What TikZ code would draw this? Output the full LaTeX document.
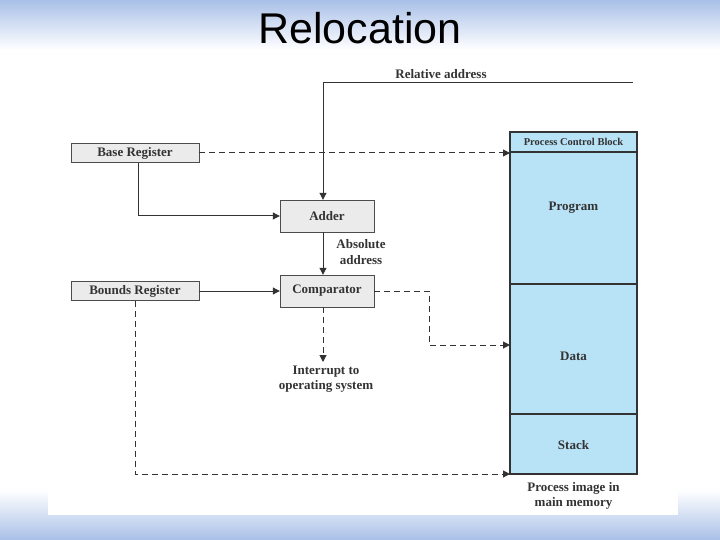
\documentclass[tikz,border=0pt]{standalone}
\usepackage{fontspec}
\setmainfont{Liberation Serif}
\newfontfamily\titlefont{Liberation Sans}
\usetikzlibrary{arrows.meta}
\definecolor{bgblue}{HTML}{A9C0E8}
\definecolor{boxgray}{HTML}{EBEBEB}
\definecolor{memblue}{HTML}{B8E2F6}
\begin{document}
\begin{tikzpicture}[x=1pt,y=-1pt,
  reg/.style={draw=black!70,fill=boxgray,font=\bfseries\fontsize{13}{14}\selectfont,inner sep=0pt,text=black!80},
  lbl/.style={font=\bfseries\fontsize{13}{15.5}\selectfont,align=center,text=black!80},
  sol/.style={draw=black!80,line width=1pt,-{Triangle[length=7pt,width=7pt]}},
  dsh/.style={sol,dash pattern=on 6pt off 4pt}]
\useasboundingbox (0,0) rectangle (720,540);
\shade[top color=bgblue,bottom color=white] (0,0) rectangle (720,50);
\shade[top color=white,bottom color=bgblue] (0,490) rectangle (720,540);
\fill[white] (48,60) rectangle (678,515);
\node[font=\titlefont\fontsize{43}{46}\selectfont] (title) at (360,28) {Relocation};
% boxes
\node[reg,minimum width=128pt,minimum height=19pt] (base) at (135,153) {Base Register};
\node[reg,minimum width=128pt,minimum height=19pt] (bounds) at (135,291) {Bounds Register};
\node[reg,minimum width=94pt,minimum height=32pt] (adder) at (327,216) {Adder};
\node[reg,minimum width=94pt,minimum height=32pt] (comp) at (327,291) {Comparator};
% memory
\draw[fill=memblue,line width=2.5pt,draw=black!80] (510,132) rectangle (637,474);
\draw[line width=2.5pt,draw=black!80] (510,152) -- (637,152) (510,284) -- (637,284) (510,414) -- (637,414);
\node[lbl,font=\bfseries\fontsize{10.5}{12}\selectfont] (pcb) at (573.5,142) {Process Control Block};
\node[lbl] (prog) at (573.5,208) {Program};
\node[lbl] (data) at (573.5,356) {Data};
\node[lbl] (stack) at (573.5,445) {Stack};
\coordinate (memtop) at (510,153);
\coordinate (memdata) at (510,345);
\coordinate (membot) at (510,474);
\node[lbl] (pim) at (573.5,496) {Process image in\\main memory};
% labels
\coordinate (relstart) at (633,83);
\node[lbl] (rel) at (441,74) {Relative address};
\node[lbl] (abs) at (361,252) {Absolute\\address};
\coordinate (intr) at (323,362);
\node[lbl] (int) at (326,379) {Interrupt to\\operating system};
% connectors
\draw[sol] (relstart) -- (323,83) -- (adder.north -| 323,0);
\draw[dsh] (base.east) -- (memtop);
\draw[sol] (base.south -| 138,0) |- (adder.west);
\draw[sol] (adder.south -| 323,0) -- (comp.north -| 323,0);
\draw[sol] (bounds.east) -- (comp.west);
\draw[dsh] (comp.east) -- (429,291) |- (memdata);
\draw[dsh] (comp.south -| 323,0) -- (intr);
\draw[dsh] (bounds.south) |- (membot);
\end{tikzpicture}
\end{document}
